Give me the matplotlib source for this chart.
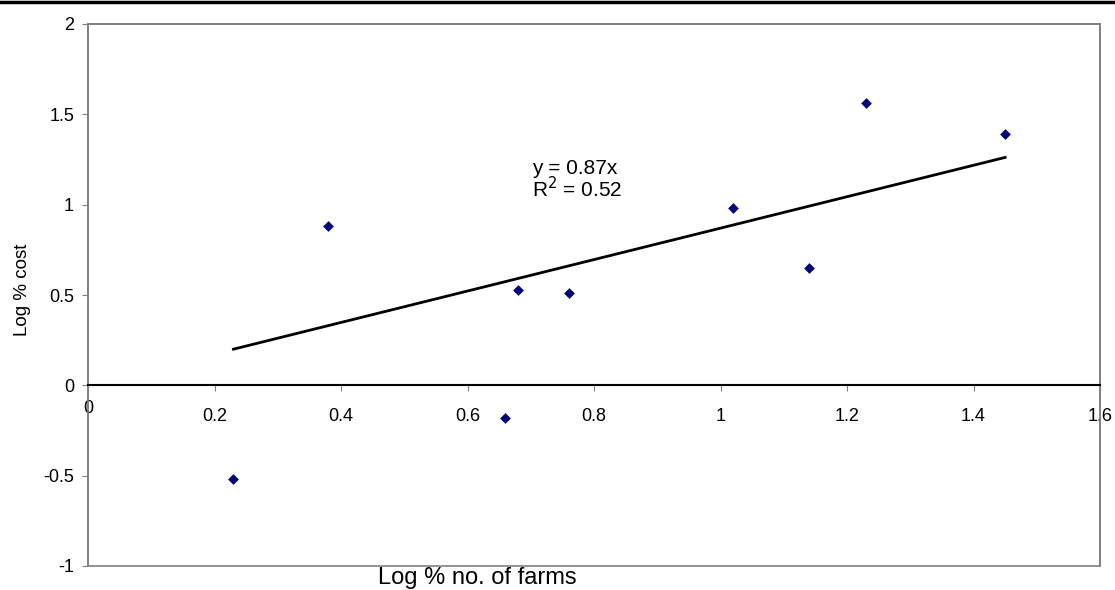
import numpy as np
import matplotlib
matplotlib.use('Agg')
import matplotlib.pyplot as plt
import matplotlib.transforms as mtransforms
from matplotlib.lines import Line2D
from matplotlib.patches import Rectangle

# data
log_farms = [0.23, 0.38, 0.66, 0.68, 0.76, 1.02, 1.14, 1.23, 1.45]
log_cost = [-0.52, 0.88, -0.18, 0.53, 0.51, 0.98, 0.65, 1.56, 1.39]
slope = 0.87
r2 = 0.52
x_ticks = [0, 0.2, 0.4, 0.6, 0.8, 1, 1.2, 1.4, 1.6]
x_ticklabels = ['0', '0.2', '0.4', '0.6', '0.8', '1', '1.2', '1.4', '1.6']
y_ticks = [-1, -0.5, 0, 0.5, 1, 1.5, 2]
y_ticklabels = ['-1', '-0.5', '0', '0.5', '1', '1.5', '2']

plt.rcParams['font.family'] = ['Liberation Sans', 'DejaVu Sans']

fig = plt.figure(figsize=(11.15, 5.9), dpi=100)
ax = fig.add_axes([88/1115, 24/590, (1100-88)/1115, (566-24)/590])

ax.scatter(log_farms, log_cost, marker='D', s=30, color='#000080', zorder=3, linewidths=0)

# trendline through origin
tx = np.array([min(log_farms), max(log_farms)])
ax.plot(tx, slope*tx, color='black', lw=2, zorder=2)

ax.text(0.702, 1.172, 'y = %.2fx' % slope, fontsize=15, ha='left', va='baseline')
ax.text(0.702, 1.043, 'R$^2$ = %.2f' % r2, fontsize=15, ha='left', va='baseline')

ax.set_xlim(0, 1.6)
ax.set_ylim(-1, 2)

# outer frame in grey, x axis crossing at zero
for s in ['left', 'right', 'top']:
    ax.spines[s].set_color('#808080')
    ax.spines[s].set_linewidth(1.2)
ax.spines['bottom'].set_position(('data', 0))
ax.spines['bottom'].set_color('black')
ax.spines['bottom'].set_linewidth(1.5)
ax.add_patch(Rectangle((0, 0), 1, 1, transform=ax.transAxes, fill=False,
                       edgecolor='#808080', lw=1.2, clip_on=False, zorder=0))

ax.set_xticks(x_ticks)
ax.set_xticklabels(x_ticklabels, fontsize=13)
ax.set_yticks(y_ticks)
ax.set_yticklabels(y_ticklabels, fontsize=13)
ax.tick_params(axis='x', direction='out', length=4, color='#808080', pad=12)
ax.tick_params(axis='y', direction='out', length=4, color='#808080', pad=6)

# the "0" at the origin sits a little higher than the other x labels
lbl0 = ax.xaxis.get_major_ticks()[0].label1
lbl0.set_transform(lbl0.get_transform() + mtransforms.ScaledTranslation(0, 8/100, fig.dpi_scale_trans))

ax.set_ylabel('Log % cost', fontsize=13.5)
ax.yaxis.set_label_coords(-0.056, 0.509)
fig.text(477/1115, 1 - 584/590, 'Log % no. of farms', fontsize=17, ha='center', va='baseline')

# black rule along the top of the page
fig.add_artist(Line2D([0, 1], [1 - 1.5/590, 1 - 1.5/590], color='black', lw=2.5,
                      transform=fig.transFigure))

fig.savefig('out.png', dpi=100)
